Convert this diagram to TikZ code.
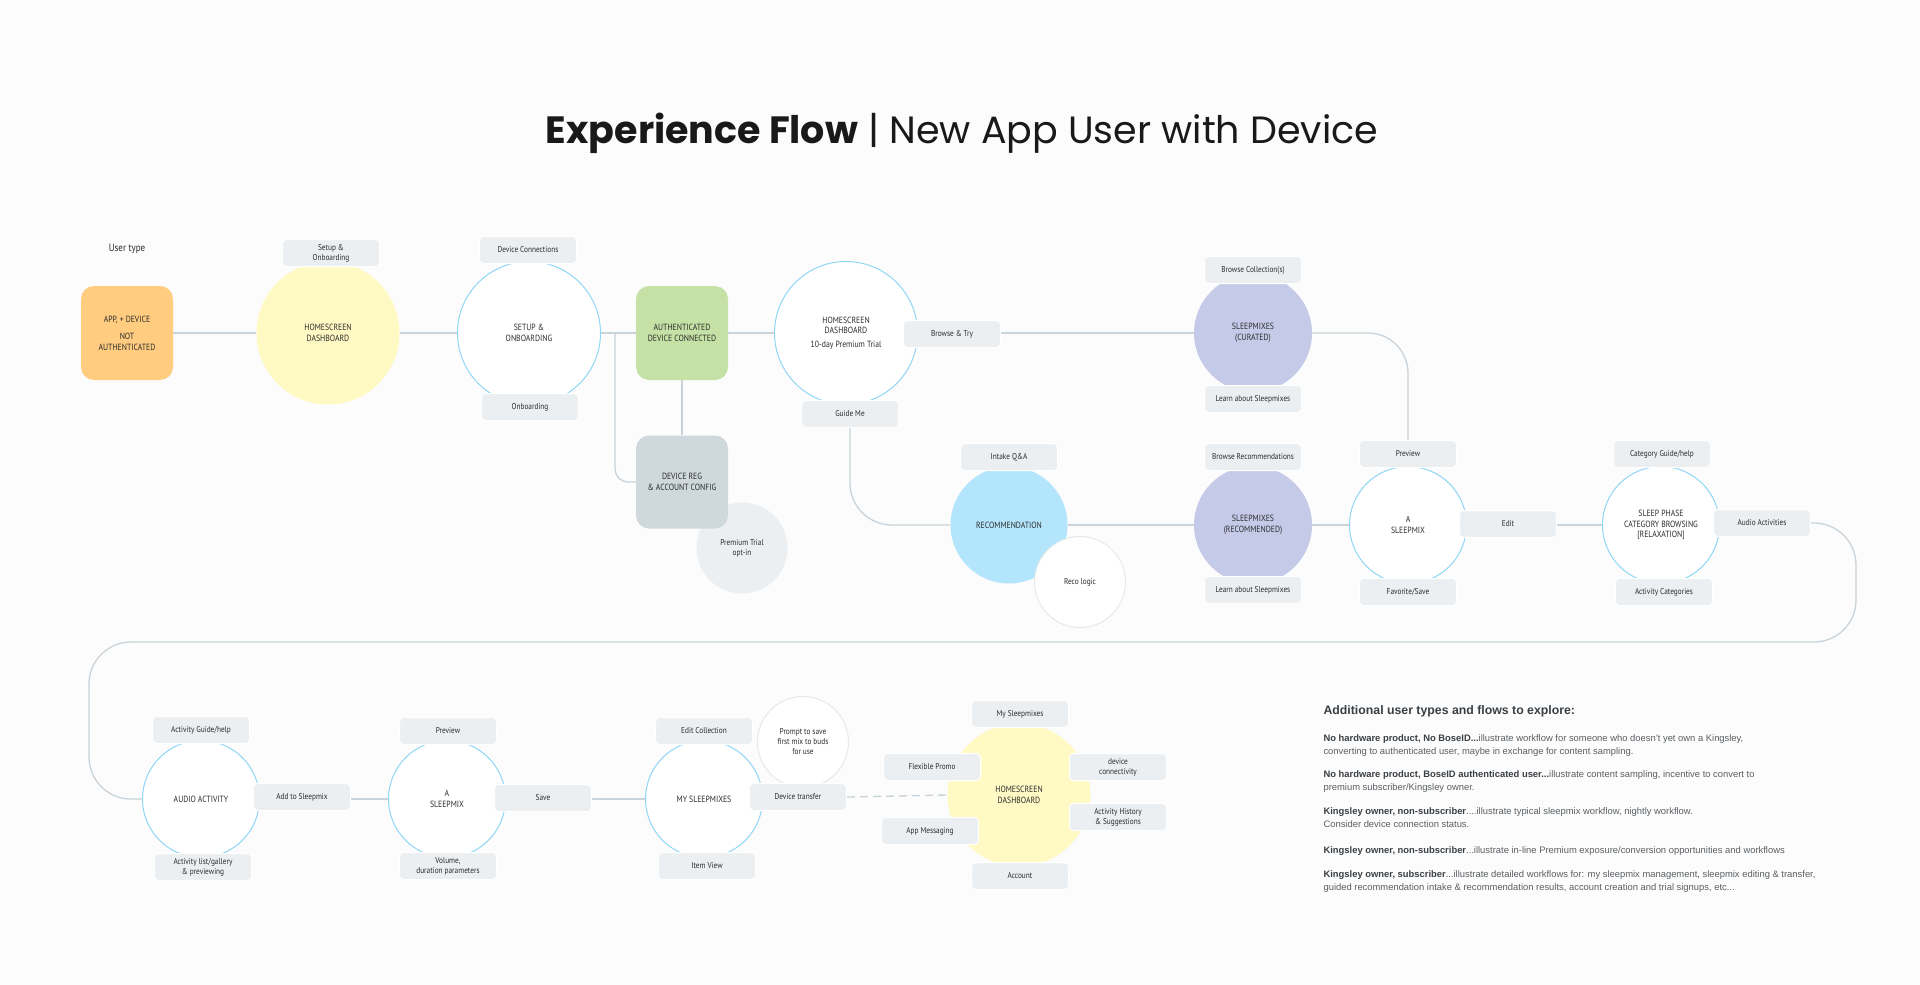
\documentclass[tikz,border=0pt]{standalone}
\usepackage{fontspec}
\setmainfont{PT Sans}
\newfontfamily\lblfont{PT Sans}[FakeStretch=0.86]
\newfontfamily\titlefont{Poppins}
\newfontfamily\notefont{Liberation Sans}
\definecolor{bgc}{HTML}{FCFCFC}
\definecolor{linec}{HTML}{C9D3DA}
\definecolor{blueline}{HTML}{8FD6F7}
\definecolor{softgray}{HTML}{E6E8EA}
\definecolor{lbox}{HTML}{ECEFF1}
\definecolor{orangec}{HTML}{FFCC80}
\definecolor{greenc}{HTML}{C5E1A5}
\definecolor{yellowc}{HTML}{FFF9C4}
\definecolor{greyblue}{HTML}{CFD8DC}
\definecolor{lavc}{HTML}{C5CAE9}
\definecolor{recoc}{HTML}{B3E5FC}
\definecolor{txt}{HTML}{2B2B2B}
\definecolor{notegray}{HTML}{5A5F63}
\definecolor{notedark}{HTML}{3A3F44}
\pgfdeclarelayer{bglayer}
\pgfdeclarelayer{linelayer}
\pgfsetlayers{bglayer,linelayer,main}
\tikzset{
  lbl/.style={font=\lblfont\fontsize{8.5}{10}\selectfont, text=txt, align=center},
  circ/.style={circle, inner sep=0pt, lbl, font=\lblfont\fontsize{9}{10.5}\selectfont},
  bigc/.style={circ, minimum size=143pt},
  midc/.style={circ, minimum size=117pt},
  smallc/.style={circ, minimum size=91pt, font=\lblfont\fontsize{8.5}{10}\selectfont},
  outl/.style={fill=white, draw=blueline, line width=1pt},
  softl/.style={fill=white, draw=softgray, line width=1pt},
  tag/.style={rectangle, rounded corners=4pt, fill=lbox, draw=white, line width=1pt, minimum width=97pt, minimum height=27pt, inner sep=1pt, lbl},
  statebox/.style={rectangle, rounded corners=13pt, minimum width=92pt, minimum height=94pt, inner sep=0pt, lbl, font=\lblfont\fontsize{9}{10.5}\selectfont},
  conn/.style={draw=linec, line width=1.3pt},
  note/.style={anchor=base west, align=left, text=notegray, font=\notefont\fontsize{9.4}{12.8}\selectfont},
}
\begin{document}
\begin{tikzpicture}[x=1pt,y=-1pt]
\useasboundingbox (0,0) rectangle (1920,985);
\begin{pgfonlayer}{bglayer}
\fill[bgc] (0,0) rectangle (1920,985);
\end{pgfonlayer}

% title
\node[text=black!90, inner sep=0pt] (title) at (962,133) {\titlefont\fontsize{38}{44}\selectfont\textbf{Experience Flow} | New App User with Device};

% row 1
\node[lbl, font=\lblfont\fontsize{10.5}{12}\selectfont] (usertype) at (127,249) {User type};
\node[statebox, fill=orangec] (user) at (127,333) {APP, + DEVICE\\[7pt]NOT\\AUTHENTICATED};
\node[bigc, fill=yellowc] (hs1) at (328,333) {HOMESCREEN\\DASHBOARD};
\node[bigc, outl] (setup) at (529,333) {SETUP \&\\ONBOARDING};
\node[statebox, fill=greenc] (auth) at (682,333) {AUTHENTICATED\\DEVICE CONNECTED};
\node[smallc, fill=lbox] (prem) at (742,548) {Premium Trial\\opt-in};
\node[statebox, fill=greyblue, minimum height=93pt] (devreg) at (682,482) {DEVICE REG\\\& ACCOUNT CONFIG};
\node[bigc, outl] (hs2) at (846,333) {HOMESCREEN\\DASHBOARD\\[3pt]10-day Premium Trial};
\node[circ, minimum size=118pt, fill=lavc] (cur) at (1253,333) {SLEEPMIXES\\(CURATED)};

% row 2
\node[midc, fill=recoc] (reco) at (1009,525) {RECOMMENDATION};
\node[smallc, softl] (recologic) at (1080,582) {Reco logic};
\node[circ, minimum size=118pt, fill=lavc] (recd) at (1253,525) {SLEEPMIXES\\(RECOMMENDED)};
\node[midc, outl] (mix) at (1408,525) {A\\SLEEPMIX};
\node[midc, outl] (phase) at (1661,525) {SLEEP PHASE\\CATEGORY BROWSING\\{[RELAXATION]}};

% row 3
\node[midc, outl] (aact) at (201,799) {AUDIO ACTIVITY};
\node[midc, outl] (mix2) at (447,799) {A\\SLEEPMIX};
\node[midc, outl] (mys) at (704,799) {MY SLEEPMIXES};
\node[smallc, softl] (prompt) at (803,742) {Prompt to save\\first mix to buds\\for use};
\node[bigc, fill=yellowc] (dash) at (1019,795) {HOMESCREEN\\DASHBOARD};

% tags row 1
\node[tag] (t-setup) at (331,253) {Setup \&\\Onboarding};
\node[tag] (t-devcon) at (528,250) {Device Connections};
\node[tag] (t-onb) at (530,407) {Onboarding};
\node[tag] (browse) at (952,334) {Browse \& Try};
\node[tag] (guide) at (850,414) {Guide Me};
\node[tag] (t-coll) at (1253,270) {Browse Collection(s)};
\node[tag] (t-learn1) at (1253,399) {Learn about Sleepmixes};

% tags row 2
\node[tag] (t-intake) at (1009,457) {Intake Q\&A};
\node[tag] (t-brec) at (1253,457) {Browse Recommendations};
\node[tag] (t-learn2) at (1253,590) {Learn about Sleepmixes};
\node[tag] (prev1) at (1408,454) {Preview};
\node[tag] (t-fav) at (1408,592) {Favorite/Save};
\node[tag] (t-edit) at (1508,524) {Edit};
\node[tag] (t-catg) at (1662,454) {Category Guide/help};
\node[tag] (t-actc) at (1664,592) {Activity Categories};
\node[tag] (audacts) at (1762,523) {Audio Activities};

% tags row 3
\node[tag] (t-actg) at (201,730) {Activity Guide/help};
\node[tag] (t-actl) at (203,867) {Activity list/gallery\\\& previewing};
\node[tag] (t-add) at (302,797) {Add to Sleepmix};
\node[tag] (t-prev2) at (448,731) {Preview};
\node[tag] (t-vol) at (448,866) {Volume,\\duration parameters};
\node[tag] (t-save) at (543,798) {Save};
\node[tag] (t-editc) at (704,731) {Edit Collection};
\node[tag] (t-item) at (707,866) {Item View};
\node[tag] (devtr) at (798,797) {Device transfer};
\node[tag] (t-mys) at (1020,714) {My Sleepmixes};
\node[tag] (t-flex) at (932,767) {Flexible Promo};
\node[tag] (t-dconn) at (1118,767) {device\\connectivity};
\node[tag] (t-hist) at (1118,817) {Activity History\\\& Suggestions};
\node[tag] (t-appm) at (930,831) {App Messaging};
\node[tag] (t-acc) at (1020,876) {Account};

% connectors
\begin{pgfonlayer}{linelayer}
\coordinate (br) at (615,333);
\coordinate (lr) at (1856,642);
\coordinate (ll) at (89,642);
\draw[conn] (user) -- (hs1);
\draw[conn] (hs1) -- (setup);
\draw[conn] (setup) -- (auth);
\draw[conn] (auth) -- (hs2);
\draw[conn] (hs2) -- (cur);
\draw[conn, rounded corners=13pt] (br) |- (devreg.west);
\draw[conn] (auth) -- (devreg);
\draw[conn, rounded corners=40pt] (cur.east) -| (prev1.north);
\draw[conn, rounded corners=42pt] (guide.south) |- (reco.west);
\draw[conn] (reco) -- (recd);
\draw[conn] (recd) -- (mix);
\draw[conn] (mix) -- (phase);
\draw[conn] (phase) -- (audacts);
\draw[conn, rounded corners=42pt] (audacts.east) -| (lr) -- (ll) |- (aact.west);
\draw[conn] (aact) -- (mix2);
\draw[conn] (mix2) -- (mys);
\draw[conn] (mys) -- (devtr);
\draw[conn, dashed, dash pattern=on 8pt off 5pt] (devtr.east) -- (dash.west);
\end{pgfonlayer}

% notes (base anchor = last line baseline)
\node[anchor=base west, text=notedark, font=\notefont\bfseries\fontsize{12.3}{14}\selectfont] (head) at (1320,714) {Additional user types and flows to explore:};
\node[note] (n1) at (1320,754) {\textbf{\color{notedark}No hardware product, No BoseID...}illustrate workflow for someone who doesn’t yet own a Kingsley,\\converting to authenticated user, maybe in exchange for content sampling.};
\node[note] (n2) at (1320,790) {\textbf{\color{notedark}No hardware product, BoseID authenticated user...}illustrate content sampling, incentive to convert to\\premium subscriber/Kingsley owner.};
\node[note] (n3) at (1320,827) {\textbf{\color{notedark}Kingsley owner, non-subscriber}....illustrate typical sleepmix workflow, nightly workflow.\\Consider device connection status.};
\node[note] (n4) at (1320,853) {\textbf{\color{notedark}Kingsley owner, non-subscriber}...illustrate in-line Premium exposure/conversion opportunities and workflows};
\node[note] (n5) at (1320,890) {\textbf{\color{notedark}Kingsley owner, subscriber}...illustrate detailed workflows for: my sleepmix management, sleepmix editing \& transfer,\\guided recommendation intake \& recommendation results, account creation and trial signups, etc...};
\end{tikzpicture}
\end{document}
